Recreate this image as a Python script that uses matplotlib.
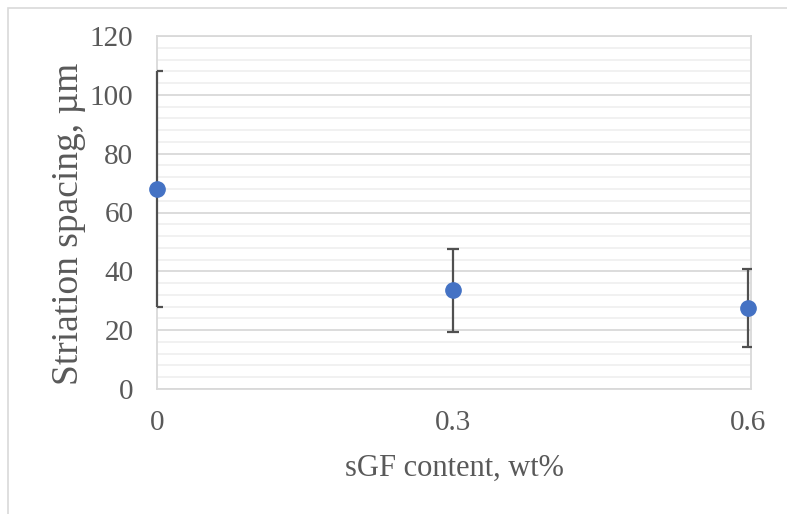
import matplotlib
matplotlib.use("Agg")
import matplotlib.pyplot as plt
from matplotlib.patches import Rectangle
from matplotlib.ticker import MultipleLocator

x_vals = [0, 0.3, 0.6]
x_labels = ["0", "0.3", "0.6"]
y_vals = [68, 33.5, 27.5]
y_err = [40, 14, 13.2]

W, H = 787, 514
fig = plt.figure(figsize=(W / 100, H / 100), dpi=100)
fig.patch.set_facecolor("white")
fig.add_artist(Rectangle((8 / W, -0.1), 1.2, 1.1 - 8 / H, transform=fig.transFigure,
                         fill=False, edgecolor="#d9d9d9", linewidth=1.2))

ax = fig.add_axes([157 / W, 1 - 389 / H, (751 - 157) / W, (389 - 36) / H])
txt = "#595959"
font = "Liberation Serif"

ax.set_xlim(0, 0.603)
ax.set_ylim(0, 120)
ax.yaxis.set_major_locator(MultipleLocator(20))
ax.yaxis.set_minor_locator(MultipleLocator(4))
ax.set_xticks(x_vals)
ax.set_xticklabels(x_labels)
ax.grid(axis="y", which="major", color="#d9d9d9", linewidth=1.3)
ax.grid(axis="y", which="minor", color="#f0f0f0", linewidth=1.3)
ax.set_axisbelow(True)
for s in ax.spines.values():
    s.set_color("#d9d9d9")
    s.set_linewidth(1.3)
ax.tick_params(axis="both", which="both", length=0, colors=txt, labelsize=21)
ax.tick_params(axis="x", pad=15)
ax.tick_params(axis="y", pad=17)
for lab in ax.get_xticklabels() + ax.get_yticklabels():
    lab.set_fontfamily(font)

eb = ax.errorbar(x_vals, y_vals, yerr=y_err, fmt="o", color="#4472C4", markersize=11,
                 ecolor="#505050", elinewidth=1.6, capsize=4, capthick=1.6, zorder=3)
eb[0].set_clip_on(False)
for b in eb[2]:
    b.set_clip_on(False)

ax.set_xlabel("sGF content, wt%", fontsize=22, fontfamily=font, color=txt, labelpad=13)
ax.set_ylabel("Striation spacing, µm", fontsize=27, fontfamily=font, color=txt)
ax.yaxis.set_label_coords(-0.12, 0.469)

fig.savefig("out.png", dpi=100)
